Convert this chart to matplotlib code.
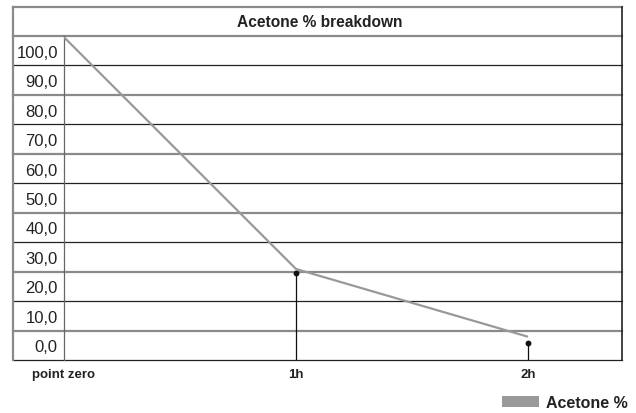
import matplotlib
matplotlib.use("Agg")
import matplotlib.pyplot as plt
from matplotlib.lines import Line2D
from matplotlib.patches import Patch

plt.rcParams["font.family"] = ["Liberation Sans", "DejaVu Sans"]

# data
categories = ["point zero", "1h", "2h"]
acetone_line = [104.6, 25.9, 2.9]
marker_values = [24.6, 0.9]          # dots with drop lines at 1h and 2h
y_ticks = [100, 90, 80, 70, 60, 50, 40, 30, 20, 10, 0]
y_labels = ["100,0", "90,0", "80,0", "70,0", "60,0", "50,0",
            "40,0", "30,0", "20,0", "10,0", "0,0"]

W, H = 636, 414
fig = plt.figure(figsize=(W / 100, H / 100), dpi=100)

def fx(px):
    return px / W

def fy(py):
    return 1 - py / H

# plot area in pixels: x 64..622, y 37..361
left, right, top, bottom = 64, 622, 37, 361
ax = fig.add_axes([fx(left), fy(bottom), fx(right - left), (bottom - top) / H])

x = list(range(len(categories)))
ax.set_xlim(0, (right - left) / 232)
ax.set_ylim(-5, 105)

# row boundaries, alternating gray / black, extended across the label column
ext = -(left - 13) / (right - left)
for k in range(12):
    v = 105 - 10 * k
    if k % 2 == 0:
        ax.axhline(v, xmin=ext, xmax=1, color="#8a8a8a", lw=1.6, clip_on=False, zorder=1)
    else:
        ax.axhline(v, xmin=ext, xmax=1, color="#222222", lw=0.9, clip_on=False, zorder=1)

# series
ax.plot(x, acetone_line, color="#999999", lw=1.6, zorder=3, solid_capstyle="butt")
for xi, v in zip(x[1:], marker_values):
    ax.plot([xi, xi], [-5, v], color="#111111", lw=0.9, zorder=4)
    ax.plot(xi, v, "o", color="#111111", ms=3.2, zorder=5)

for s in ["top", "right", "bottom"]:
    ax.spines[s].set_visible(False)
ax.spines["left"].set_color("#666666")
ax.spines["left"].set_linewidth(0.9)

ax.set_yticks(y_ticks)
ax.set_yticklabels(y_labels)
ax.set_xticks(x)
ax.set_xticklabels(categories, fontweight="bold")
ax.tick_params(axis="y", length=0, pad=4.5, labelsize=12, labelcolor="#222222")
ax.tick_params(axis="x", length=0, pad=5.5, labelsize=9.5, labelcolor="#222222")

# outer frame and title box
fig.add_artist(Line2D([fx(13), fx(13)], [fy(8), fy(361)], color="#8a8a8a", lw=1.6))
fig.add_artist(Line2D([fx(13), fx(622)], [fy(8), fy(8)], color="#8a8a8a", lw=1.6))
fig.add_artist(Line2D([fx(622), fx(622)], [fy(8), fy(361)], color="#222222", lw=1.2))
fig.text(fx(319.5), fy(22.5), "Acetone % breakdown", ha="center", va="center",
         fontsize=11.2, fontweight="bold", color="#222222")

# legend
handle = Patch(facecolor="#999999", edgecolor="none", label="Acetone %")
leg = fig.legend(handles=[handle], loc="center left", bbox_to_anchor=(fx(502), fy(403.5)),
                 frameon=False, fontsize=11.5, handlelength=2.3, handleheight=0.68,
                 handletextpad=0.45, borderpad=0, borderaxespad=0)
for t in leg.get_texts():
    t.set_fontweight("bold")
    t.set_color("#222222")

fig.savefig("out.png", dpi=100)
